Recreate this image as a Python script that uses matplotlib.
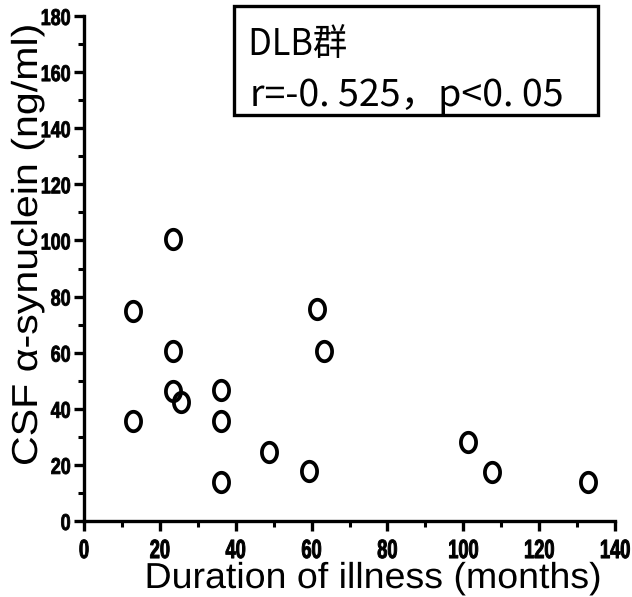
import matplotlib
matplotlib.use("Agg")
import matplotlib.pyplot as plt
import numpy as np
from matplotlib.path import Path
from matplotlib.patches import Rectangle
from matplotlib.patheffects import AbstractPathEffect
from matplotlib.transforms import Affine2D

duration = [12.9, 12.9, 23.5, 23.5, 23.5, 25.6, 36.1, 36.1, 36.1, 48.8, 59.4, 61.5, 63.3, 101.3, 107.7, 133.0]
asyn = [75.0, 35.5, 100.5, 60.7, 46.5, 42.5, 46.8, 35.7, 13.9, 24.6, 17.9, 75.4, 60.7, 28.2, 17.5, 13.9]

xticks = [0, 20, 40, 60, 80, 100, 120, 140]
yticks = [0, 20, 40, 60, 80, 100, 120, 140, 160, 180]


class Stretch(AbstractPathEffect):
    """Stretch glyphs along the text direction (text stays a Text artist)."""
    def __init__(self, sx, anchor='center', stroke=0.0):
        super().__init__()
        self.sx = sx
        self.anchor = anchor
        self.stroke = stroke

    def draw_path(self, renderer, gc, tpath, affine, rgbFace=None):
        ext = tpath.get_extents()
        if self.anchor == 'center':
            a = (ext.x0 + ext.x1) / 2
        elif self.anchor == 'right':
            a = ext.x1
        else:
            a = ext.x0
        t = Affine2D().translate(-a, 0).scale(self.sx, 1.0).translate(a, 0) + affine
        gc0 = renderer.new_gc()
        gc0.copy_properties(gc)
        if self.stroke > 0:
            gc0.set_linewidth(self.stroke)
            gc0.set_foreground(rgbFace)
        renderer.draw_path(gc0, tpath, t, rgbFace)
        gc0.restore()


fig = plt.figure(figsize=(6.32, 5.97), dpi=100)
ax = fig.add_axes([84/632, 1-521/597, (615-84)/632, (521-16)/597])

t = np.linspace(0, 2*np.pi, 60)
ell = Path(np.column_stack([0.78*np.cos(t), np.sin(t)]), closed=True)

ax.plot(duration, asyn, linestyle='none', marker=ell, markersize=14,
        markerfacecolor='none', markeredgecolor='black', markeredgewidth=2.7, clip_on=False)

ax.set_xlim(0, 140)
ax.set_ylim(0, 180)
ax.set_xticks(xticks)
ax.set_yticks(yticks)
ax.set_xticks(np.arange(10, 140, 20), minor=True)
ax.set_yticks(np.arange(10, 180, 20), minor=True)

for s in ['top', 'right']:
    ax.spines[s].set_visible(False)
for s in ['left', 'bottom']:
    ax.spines[s].set_linewidth(2.4)

ax.tick_params(which='major', direction='out', length=7, width=2.4)
ax.tick_params(which='minor', direction='out', length=4.5, width=2.2)
ax.tick_params(axis='x', which='major', pad=6)
ax.tick_params(axis='y', which='major', pad=2.5)

xfont = dict(family=['Liberation Sans', 'DejaVu Sans'], weight='bold', size=19)
yfont = dict(family=['Liberation Sans', 'DejaVu Sans'], weight='bold', size=16.5)
ax.set_xticklabels([str(v) for v in xticks], fontdict=xfont)
ax.set_yticklabels([str(v) for v in yticks], fontdict=yfont)
for lbl in ax.get_xticklabels():
    lbl.set_path_effects([Stretch(0.69, 'center', stroke=0.7)])
for lbl in ax.get_yticklabels():
    lbl.set_path_effects([Stretch(0.78, 'right', stroke=0.6)])

lab = ['Liberation Sans', 'DejaVu Sans']
ax.set_xlabel('Duration of illness (months)', fontsize=26, family=lab)
ax.xaxis.set_label_coords((373-84)/531, -(588-521)/505)
ax.xaxis.label.set_va('baseline')
ax.xaxis.label.set_path_effects([Stretch(1.04, 'center')])

ax.set_ylabel('CSF α-synuclein (ng/ml)', fontsize=26, family=lab)
ax.yaxis.set_label_coords(-(84-45)/531, (521-245)/505)
ax.yaxis.label.set_path_effects([Stretch(1.14, 'center')])

fig.patches.append(Rectangle((234/632, 1-115/597), (598-234)/632, (115-6)/597,
                             transform=fig.transFigure, fill=False, edgecolor='black', linewidth=2.4))
jp = ['Noto Sans CJK JP', 'DejaVu Sans']
t1 = fig.text(248/632, 1-55/597, 'DLB群', family=jp, fontsize=26.5, va='baseline', ha='left')
t1.set_path_effects([Stretch(0.93, 'left')])
t2 = fig.text(250/632, 1-106/597, 'r=-0. 525，p<0. 05', family=jp, fontsize=26.5, va='baseline', ha='left')
t2.set_path_effects([Stretch(1.02, 'left')])

fig.savefig('out.png', dpi=100)
